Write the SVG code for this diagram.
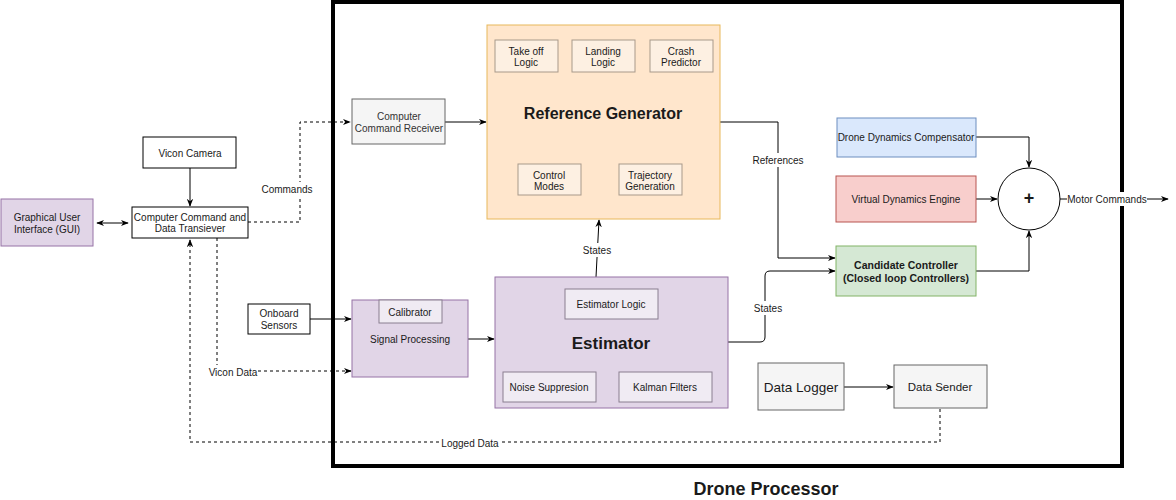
<svg xmlns="http://www.w3.org/2000/svg" width="1176" height="500" viewBox="0 0 1176 500">
<style>
text{font-family:"Liberation Sans",Arial,sans-serif;font-size:10px;fill:#1a1a1a;text-anchor:middle;dominant-baseline:central}
.b{font-weight:bold}
.w{fill:#fff;stroke:#000;stroke-width:1}
.g{fill:#f5f5f5;stroke:#666;stroke-width:1}
.o{fill:#ffe6cc;stroke:#e8b85a;stroke-width:1}
.os{fill:#fdf0e2;stroke:#a8998a;stroke-width:1}
.p{fill:#e1d5e7;stroke:#9673a6;stroke-width:1}
.ps{fill:#f0ebf3;stroke:#8a7f90;stroke-width:1}
.bl{fill:#dae8fc;stroke:#6c8ebf;stroke-width:1}
.r{fill:#f8cecc;stroke:#b85450;stroke-width:1}
.gr{fill:#d5e8d4;stroke:#82b366;stroke-width:1}
.l{fill:none;stroke:#000;stroke-width:1}
.d{fill:none;stroke:#000;stroke-width:1;stroke-dasharray:3 3}
.lb{fill:#fff}
</style>
<defs>
<marker id="a" viewBox="0 0 10 10" refX="9" refY="5" markerWidth="8" markerHeight="8" orient="auto-start-reverse" markerUnits="userSpaceOnUse"><path d="M0,1 L10,5 L0,9 L3,5 Z" fill="#000"/></marker>
</defs>
<rect x="333" y="2" width="789" height="464" fill="none" stroke="#000" stroke-width="4"/>
<text x="766" y="489" class="b" style="font-size:18px">Drone Processor</text>

<g id="connectors">
<path class="l" d="M97,223 H128" marker-start="url(#a)" marker-end="url(#a)"/>
<path class="l" d="M190,168 V206" marker-end="url(#a)"/>
<path class="d" d="M248,222 H300 V122 H350" marker-end="url(#a)"/>
<path class="l" d="M445,122 H486" marker-end="url(#a)"/>
<path class="l" d="M310,319 H351" marker-end="url(#a)"/>
<path class="l" d="M468,339 H494" marker-end="url(#a)"/>
<path class="d" d="M217,238 V371 H351" marker-end="url(#a)"/>
<path class="d" d="M940,409 V442 H190 V240" marker-end="url(#a)"/>
<path class="l" d="M596,277 L599,220" marker-end="url(#a)"/>
<path class="l" d="M728,342 H760 Q765,342 765,337 V276 Q765,271 770,271 H835" marker-end="url(#a)"/>
<path class="l" d="M720,122 H778 V258 H835" marker-end="url(#a)"/>
<path class="l" d="M976,137 H1029 V167" marker-end="url(#a)"/>
<path class="l" d="M976,199 H997" marker-end="url(#a)"/>
<path class="l" d="M976,271 H1029 V231" marker-end="url(#a)"/>
<path class="l" d="M1060,199 H1168" marker-end="url(#a)"/>
<path class="l" d="M844,387 H893" stroke="#666" marker-end="url(#a)"/>
<rect x="261" y="182" width="52" height="14" class="lb"/>
<text x="287" y="189">Commands</text>
<rect x="208" y="365" width="50" height="14" class="lb"/>
<text x="233" y="372">Vicon Data</text>
<rect x="442" y="436" width="57" height="14" class="lb"/>
<text x="470" y="443">Logged Data</text>
<rect x="581" y="243" width="32" height="14" class="lb"/>
<text x="597" y="250">States</text>
<rect x="753" y="301" width="30" height="14" class="lb"/>
<text x="768" y="308">States</text>
<rect x="753" y="153" width="51" height="14" class="lb"/>
<text x="778" y="160">References</text>
<rect x="1067" y="192" width="80" height="14" class="lb"/>
<text x="1107" y="199">Motor Commands</text>
</g>

<g id="gui"><rect x="1" y="199" width="92" height="47" class="p"/><text x="47" y="217">Graphical User</text><text x="47" y="229">Interface (GUI)</text></g>
<g id="vicon"><rect x="143" y="137" width="93" height="31" class="w"/><text x="190" y="153">Vicon Camera</text></g>
<g id="transiever"><rect x="132" y="207" width="116" height="31" class="w"/><text x="190" y="217">Computer Command and</text><text x="190" y="228">Data Transiever</text></g>
<g id="onboard"><rect x="248" y="304" width="62" height="30" class="w"/><text x="279" y="313">Onboard</text><text x="279" y="325">Sensors</text></g>
<g id="receiver"><rect x="352" y="99" width="93" height="45" class="g"/><text x="399" y="116" style="fill:#333">Computer</text><text x="399" y="128" style="fill:#333">Command Receiver</text></g>

<g id="refgen">
<rect x="487" y="25" width="233" height="194" class="o"/>
<text x="603" y="113" class="b" style="font-size:16px">Reference Generator</text>
<rect x="495" y="40" width="63" height="32" class="os"/><text x="526" y="51">Take off</text><text x="526" y="62">Logic</text>
<rect x="572" y="40" width="63" height="32" class="os"/><text x="603" y="51">Landing</text><text x="603" y="62">Logic</text>
<rect x="650" y="40" width="63" height="32" class="os"/><text x="681" y="51">Crash</text><text x="681" y="62">Predictor</text>
<rect x="518" y="164" width="63" height="31" class="os"/><text x="549" y="175">Control</text><text x="549" y="186">Modes</text>
<rect x="619" y="164" width="63" height="31" class="os"/><text x="650" y="175">Trajectory</text><text x="650" y="186">Generation</text>
</g>

<g id="signal">
<rect x="352" y="300" width="116" height="77" class="p"/>
<rect x="379" y="300" width="63" height="23" class="ps"/><text x="410" y="312">Calibrator</text>
<text x="410" y="339">Signal Processing</text>
</g>

<g id="estimator">
<rect x="495" y="277" width="233" height="131" class="p"/>
<rect x="565" y="289" width="93" height="30" class="ps"/><text x="611" y="304">Estimator Logic</text>
<text x="611" y="343" class="b" style="font-size:17px">Estimator</text>
<rect x="503" y="372" width="93" height="30" class="ps"/><text x="549" y="387">Noise Suppresion</text>
<rect x="619" y="372" width="93" height="30" class="ps"/><text x="665" y="387">Kalman Filters</text>
</g>

<g id="compensator"><rect x="837" y="118" width="139" height="39" class="bl"/><text x="906" y="137">Drone Dynamics Compensator</text></g>
<g id="virtual"><rect x="836" y="176" width="140" height="46" class="r"/><text x="906" y="199">Virtual Dynamics Engine</text></g>
<g id="candidate"><rect x="836" y="246" width="140" height="50" class="gr"/><text x="906" y="265" class="b" style="font-size:10.5px">Candidate Controller</text><text x="906" y="278" class="b" style="font-size:10.5px">(Closed loop Controllers)</text></g>
<g id="sum"><circle cx="1029" cy="199" r="31" class="w"/><text x="1029" y="198" class="b" style="font-size:18px">+</text></g>
<g id="logger"><rect x="758" y="363" width="86" height="47" class="g"/><text x="801" y="387" style="font-size:13.5px">Data Logger</text></g>
<g id="sender"><rect x="894" y="365" width="93" height="43" class="g"/><text x="940" y="387" style="font-size:11.5px">Data Sender</text></g>
</svg>
